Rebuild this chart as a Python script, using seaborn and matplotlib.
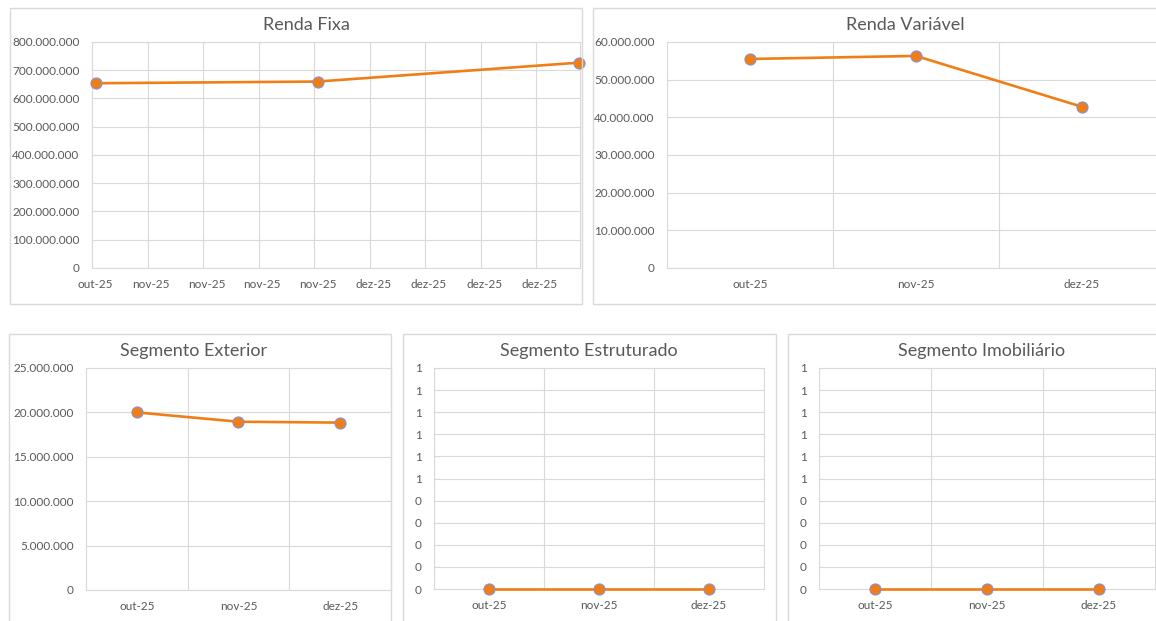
import numpy as np
import pandas as pd
import matplotlib
matplotlib.use("Agg")
import matplotlib.pyplot as plt
from matplotlib.patches import Rectangle
from matplotlib.ticker import FuncFormatter
import seaborn as sns

# ---- data ----
rf_dates = ["2025-10-31", "2025-11-28", "2025-12-31"]
rf_values = [654e6, 660e6, 727e6]
rf_tick_dates = ["2025-10-31", "2025-11-07", "2025-11-14", "2025-11-21", "2025-11-28",
                 "2025-12-05", "2025-12-12", "2025-12-19", "2025-12-26"]
rf_tick_labels = ["out-25", "nov-25", "nov-25", "nov-25", "nov-25",
                  "dez-25", "dez-25", "dez-25", "dez-25"]

months = ["out-25", "nov-25", "dez-25"]
rv_values = [55.5e6, 56.3e6, 42.8e6]
ext_values = [20.0e6, 18.95e6, 18.85e6]
estr_values = [0, 0, 0]
imob_values = [0, 0, 0]

# ---- style ----
sns.set_style("white")
plt.rcParams['font.family'] = ['Lato', 'DejaVu Sans']
TXT = "#595959"
GRID = "#D9D9D9"
ORANGE = "#F07E16"
EDGE = "#8593D8"

W, H = 1156, 621
fig = plt.figure(figsize=(W / 100, H / 100), dpi=100)


def px_axes(x0, y0, x1, y1):
    return fig.add_axes([x0 / W, 1 - y1 / H, (x1 - x0) / W, (y1 - y0) / H])


def box(x0, y0, x1, y1):
    fig.patches.append(Rectangle((x0 / W, 1 - y1 / H), (x1 - x0) / W, (y1 - y0) / H,
                                 transform=fig.transFigure, fill=False,
                                 edgecolor=GRID, linewidth=1.0, zorder=0))


def title(x, y, s):
    fig.text(x / W, 1 - y / H, s, ha="center", va="center", fontsize=13, color=TXT)


def dotted(v, pos):
    return f"{v:,.0f}".replace(",", ".")


def half_up(v, pos):
    # Excel rounds 0.5 up
    return f"{int(np.floor(v + 0.5 + 1e-9))}"


def style(ax):
    for s in ax.spines.values():
        s.set_color(GRID)
        s.set_linewidth(0.8)
    ax.tick_params(length=0, labelsize=8.5, labelcolor=TXT)
    ax.tick_params(axis="y", pad=9)
    ax.tick_params(axis="x", pad=8)
    ax.grid(True, axis="y", color=GRID, linewidth=0.8)
    ax.set_xlabel("")
    ax.set_ylabel("")


def draw(ax, x, y):
    sns.lineplot(x=x, y=y, ax=ax, color=ORANGE, linewidth=1.9, marker="o",
                 markersize=8, markerfacecolor=ORANGE, markeredgecolor=EDGE,
                 markeredgewidth=0.8, clip_on=False, zorder=5)


def cat_panel(ax, values, ymax, step, fmt):
    xs = np.arange(len(months))
    draw(ax, xs, values)
    ax.set_xlim(-0.5, len(months) - 0.5)
    ax.set_xticks(xs)
    ax.set_xticklabels(months)
    ax.set_xticks(np.arange(len(months) - 1) + 0.5, minor=True)
    ax.grid(True, axis="x", which="minor", color=GRID, linewidth=0.8)
    ax.set_ylim(0, ymax)
    ax.set_yticks(np.arange(0, ymax + step / 2, step))
    ax.yaxis.set_major_formatter(FuncFormatter(fmt))
    style(ax)
    ax.tick_params(axis="x", which="minor", length=0)


# ---- chart area borders ----
box(10, 8, 582, 304)
box(593, 8, 1170, 304)
box(9, 334, 391, 640)
box(403, 334, 776, 640)
box(788, 334, 1170, 640)

# ---- Renda Fixa ----
ax = px_axes(92, 42, 580, 268)
d = pd.to_datetime(rf_dates)
draw(ax, d, rf_values)
tick_d = pd.to_datetime(rf_tick_dates)
ax.set_xticks(tick_d)
ax.set_xticklabels(rf_tick_labels)
ax.set_xticks(tick_d - pd.Timedelta(hours=11), minor=True)
ax.grid(True, axis="x", which="minor", color=GRID, linewidth=0.8)
ax.set_xlim(tick_d[0] - pd.Timedelta(hours=11), d[-1] + pd.Timedelta(hours=2))
ax.set_ylim(0, 800e6)
ax.set_yticks(np.arange(0, 800e6 + 1, 100e6))
ax.yaxis.set_major_formatter(FuncFormatter(dotted))
style(ax)
ax.tick_params(axis="x", which="minor", length=0)
title(306, 25, "Renda Fixa")

# ---- Renda Variável ----
ax = px_axes(667, 42, 1165, 268)
cat_panel(ax, rv_values, 60e6, 10e6, dotted)
title(905, 25, "Renda Variável")

# ---- Segmento Exterior ----
ax = px_axes(86, 368, 391, 590)
cat_panel(ax, ext_values, 25e6, 5e6, dotted)
title(194, 351, "Segmento Exterior")

# ---- Segmento Estruturado ----
ax = px_axes(434, 368, 764, 589)
cat_panel(ax, estr_values, 1.0, 0.1, half_up)
title(589, 351, "Segmento Estruturado")

# ---- Segmento Imobiliário ----
ax = px_axes(819, 368, 1155, 589)
cat_panel(ax, imob_values, 1.0, 0.1, half_up)
title(982, 351, "Segmento Imobiliário")

fig.savefig("out.png", dpi=100, facecolor="white")
